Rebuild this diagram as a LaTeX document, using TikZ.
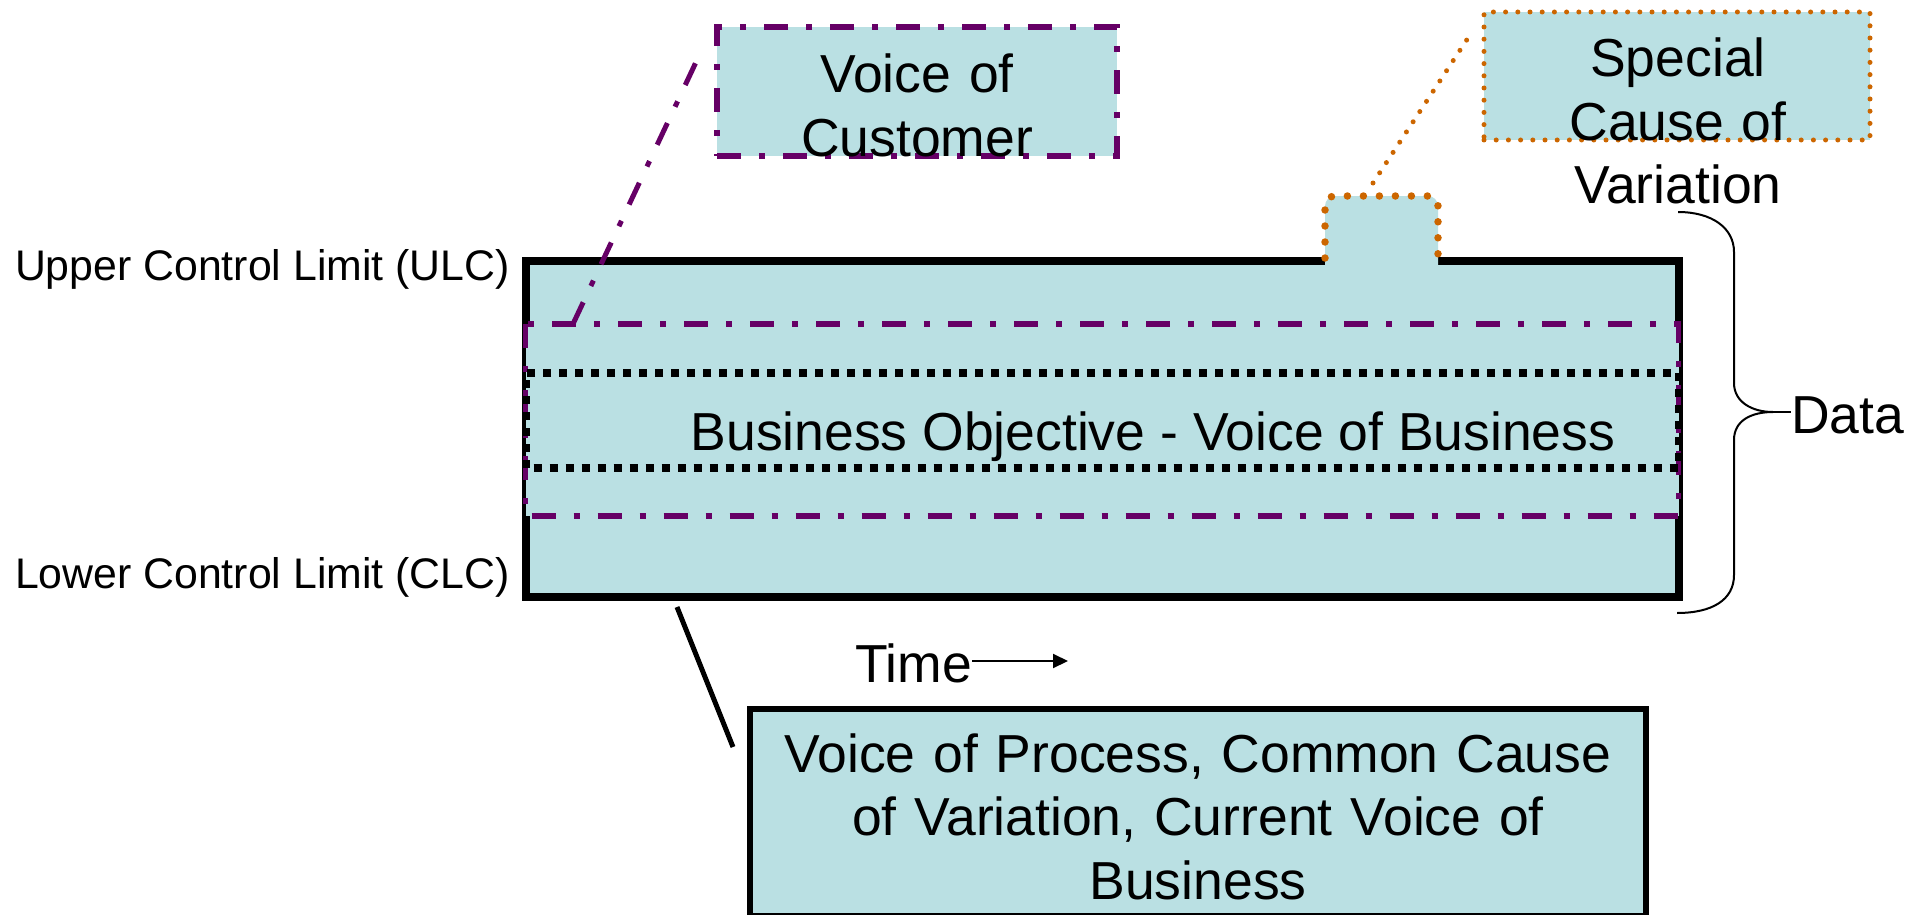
\documentclass[tikz,border=0pt]{standalone}
\usepackage{fontspec}
\setmainfont{Liberation Sans}
\usetikzlibrary{arrows.meta}

\definecolor{panel}{RGB}{186,224,227}
\definecolor{plum}{RGB}{102,0,102}
\definecolor{amber}{RGB}{204,102,0}

\tikzset{
  big/.style={font=\fontsize{53.5}{63.5}\selectfont, inner sep=0pt},
  side/.style={font=\fontsize{42.8}{50}\selectfont, inner sep=0pt},
  dashdot/.style={draw=plum, line width=5.5pt,
    dash pattern=on 24pt off 18pt on 6pt off 18pt},
  squaredots/.style={draw=black, line width=8pt,
    dash pattern=on 8pt off 8pt},
  amberdots/.style={draw=amber, line width=5pt, line cap=round,
    dash pattern=on 0pt off 12.2pt},
  bumpdots/.style={draw=amber, line width=7.5pt, line cap=round,
    dash pattern=on 0pt off 16pt},
  callout/.style={fill=panel, inner sep=0pt},
}

\begin{document}
\begin{tikzpicture}[x=1pt,y=-1pt]
\useasboundingbox (0,0) rectangle (1909,915);

% control chart body
\draw[fill=panel, line width=8pt] (525.5,260.5) rectangle (1678.5,596.5);

% excursion above the upper limit
\fill[panel] (1325,270) -- (1325,206)
  arc[start angle=180, end angle=270, radius=10] -- (1428,196)
  arc[start angle=270, end angle=360, radius=10] -- (1438,270) -- cycle;
\draw[bumpdots] (1325,258) -- (1325,206)
  arc[start angle=180, end angle=270, radius=10] -- (1428,196)
  arc[start angle=270, end angle=360, radius=10] -- (1438,258);

% customer band and business band
\draw[fill=panel, dashdot] (525.5,324) rectangle (1678.5,516);
\draw[squaredots, dash phase=8.5pt] (525.5,372.5) rectangle (1678.5,468);

\node[big, anchor=base] (vob) at (1153,450) {Business Objective - Voice of Business};

% limit labels
\node[side, anchor=base east] (ucl) at (510,280) {Upper Control Limit (ULC)};
\node[side, anchor=base east] (lcl) at (510,588) {Lower Control Limit (CLC)};

% callout boxes
\node[callout, dashdot, minimum width=400pt, minimum height=129pt] (vocbox) at (917,91.5) {};
\node[callout, amberdots, minimum width=386pt, minimum height=128pt] (scbox) at (1677,76) {};
\node[callout, draw=black, line width=6pt, minimum width=895.5pt, minimum height=207pt] (vopbox) at (1197.75,812.5) {};

% leader lines
\coordinate (vocfoot) at (573,324);
\coordinate (vochead) at (697,60);
\draw[dashdot, line width=5pt] (vocfoot) -- (vochead);

\coordinate (scfoot) at (1373,183);
\coordinate (schead) at (1468,38);
\draw[amberdots] (scfoot) -- (schead);

\coordinate (vopfoot) at (677,607);
\coordinate (vophead) at (733,747);
\draw[line width=5pt] (vopfoot) -- (vophead);

% callout texts
\node[big, align=center, text width=450pt, anchor=base] (voctext) at (917,93) {Voice of\\Customer};
\node[big, align=center, text width=400pt, anchor=base] (sctext) at (1678,77) {Special\\Cause of\\Variation};
\node[big, align=center, text width=880pt, anchor=base] (voptext) at (1198,772)
  {Voice of Process, Common Cause\\of Variation, Current Voice of\\Business};

% time axis
\node[big, anchor=base west] (time) at (855,682) {Time};
\coordinate (timeend) at (1068,661);
\draw[line width=2pt, -{Triangle[length=15pt,width=14pt]}] (time.east |- timeend) -- (timeend);

% data brace
\node[big, anchor=base west] (data) at (1791,433) {Data};
\coordinate (bracetop) at (1678,212);
\coordinate (bracepoint) at (1773,412);
\coordinate (bracebot) at (1677,613);
\draw[line width=2pt] (bracetop)
  .. controls (1712,212) and (1734,228) .. (1734,252) -- (1734,383)
  .. controls (1734,402) and (1752,412) .. (bracepoint)
  .. controls (1752,412) and (1734,420) .. (1734,440) -- (1734,575)
  .. controls (1734,600) and (1712,613) .. (bracebot);
\draw[line width=2pt] (bracepoint) -- (data.west |- bracepoint);
\end{tikzpicture}
\end{document}
